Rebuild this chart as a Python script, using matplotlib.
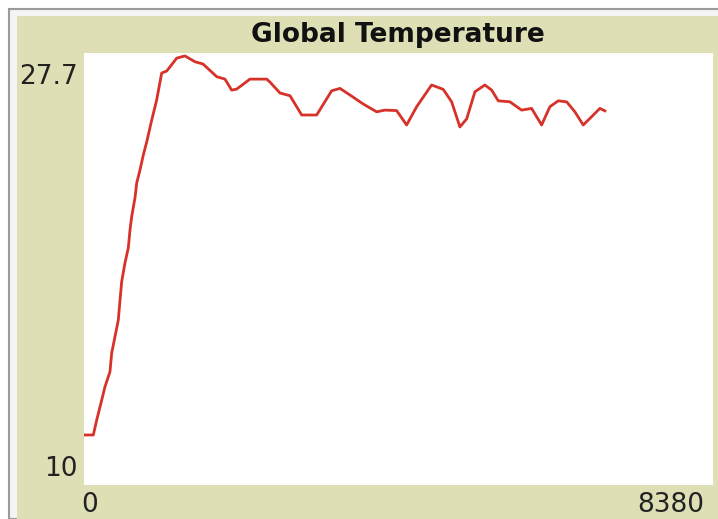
import matplotlib
matplotlib.use("Agg")
import matplotlib.pyplot as plt
from matplotlib.patches import Rectangle

# Global Temperature plot (NetLogo style)
title = "Global Temperature"
x_min, x_max = 0, 8380
y_min, y_max = 10, 27.7

ticks = [0, 124, 169, 236, 280, 346, 369, 413, 457, 480, 502, 546, 590, 613, 635,
         679, 702, 746, 790, 835, 902, 968, 1035, 1102, 1235, 1345, 1479, 1585,
         1768, 1878, 1967, 2034, 2211, 2434, 2477, 2611, 2744, 2900, 3100, 3299,
         3410, 3543, 3720, 3899, 4009, 4165, 4298, 4432, 4631, 4786, 4898, 5008,
         5098, 5208, 5341, 5431, 5519, 5674, 5830, 5963, 6097, 6207, 6318, 6430,
         6540, 6651, 6763, 6873, 6940]
temperature = [12.05, 12.05, 12.66, 13.48, 14.03, 14.64, 15.41, 16.08, 16.76, 17.58,
               18.33, 19.10, 19.71, 20.45, 20.99, 21.76, 22.37, 22.91, 23.52, 24.05,
               24.95, 25.77, 26.88, 26.96, 27.49, 27.58, 27.34, 27.25, 26.73, 26.63,
               26.18, 26.22, 26.63, 26.63, 26.51, 26.06, 25.95, 25.16, 25.16, 26.15,
               26.25, 25.98, 25.61, 25.29, 25.36, 25.34, 24.75, 25.50, 26.39, 26.21,
               25.70, 24.67, 25.00, 26.11, 26.39, 26.18, 25.74, 25.70, 25.36, 25.43,
               24.75, 25.50, 25.74, 25.70, 25.29, 24.75, 25.09, 25.43, 25.33]

W, H = 718, 519
olive = "#dfdfb6"
red = "#d73229"

fig = plt.figure(figsize=(W / 100, H / 100), dpi=100, facecolor="white")

# widget frame, drawn behind the axes
fig.patches.append(Rectangle((9 / W, 0), 1, 1 - 9 / H, transform=fig.transFigure,
                             facecolor="#f4f4f4", edgecolor="#9a9a9a", lw=1.5, zorder=-10))
fig.patches.append(Rectangle((17 / W, 0), 1, 1 - 16 / H, transform=fig.transFigure,
                             facecolor=olive, edgecolor="none", zorder=-9))

ax = fig.add_axes([84 / W, 1 - 485 / H, (713 - 84) / W, (485 - 53) / H])
ax.set_zorder(5)
ax.set_facecolor("white")
ax.plot(ticks, temperature, color=red, lw=2)
ax.set_xlim(x_min, x_max)
ax.set_ylim(y_min, y_max)
ax.set_xticks([])
ax.set_yticks([])
for s in ax.spines.values():
    s.set_visible(False)

def px(x, y):
    return x / W, 1 - y / H

fig.text(*px(398, 35), title, ha="center", va="center", fontsize=19,
         fontweight="bold", color="#111111")
fig.text(*px(78, 77), f"{y_max}", ha="right", va="center", fontsize=19, color="#222222")
fig.text(*px(78, 469), f"{y_min}", ha="right", va="center", fontsize=19, color="#222222")
fig.text(*px(81, 505), f"{x_min}", ha="left", va="center", fontsize=19, color="#222222")
fig.text(*px(704, 505), f"{x_max}", ha="right", va="center", fontsize=19, color="#222222")

fig.savefig("out.png", dpi=100, facecolor="white")
